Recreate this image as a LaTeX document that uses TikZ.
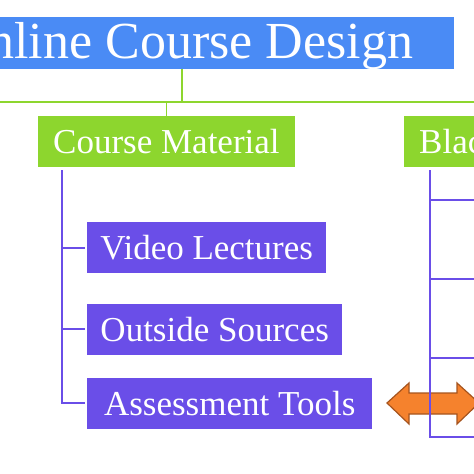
\documentclass[tikz,border=0pt]{standalone}
\usepackage{fontspec}
\setmainfont{Liberation Serif}
\definecolor{titleblue}{RGB}{74,139,245}
\definecolor{leafgreen}{RGB}{141,214,46}
\definecolor{itempurple}{RGB}{106,78,232}
\definecolor{arroworange}{RGB}{245,130,45}
\definecolor{arrowbrown}{RGB}{166,84,30}
\begin{document}
\begin{tikzpicture}[x=1pt, y=-1pt,
  title/.style={fill=titleblue, text=white, minimum width=544pt, minimum height=52pt,
    inner sep=0pt, text height=35pt, text depth=4pt, font=\fontsize{52}{60}\selectfont},
  topic/.style={fill=leafgreen, text=white, anchor=west, minimum height=51pt,
    inner xsep=15pt, inner ysep=0pt, text height=24pt, text depth=0pt, font=\fontsize{35}{40}\selectfont},
  item/.style={fill=itempurple, text=white, anchor=west, minimum height=51pt,
    inner xsep=12pt, inner ysep=0pt, text height=24pt, text depth=0pt, font=\fontsize{35}{40}\selectfont},
  greenline/.style={draw=leafgreen, line width=1.8pt},
  purpleline/.style={draw=itempurple, line width=2pt},
  arrowfill/.style={fill=arroworange, draw=arrowbrown, line width=1.2pt}]
  \useasboundingbox (0,0) rectangle (474,474);
  \clip (0,0) rectangle (474,474);
  % top level
  \node[title] (design) at (182,43) {Online Course Design};
  \node[topic] (material) at (38,141.5) {Course Material};
  \node[topic] (blackboard) at (404,141.5) {Blackboard};
  \coordinate (busL) at (-10,102);
  \coordinate (busR) at (490,102);
  \draw[greenline] (busL) -- (busR);
  \draw[greenline] (design.south) -- (design.south |- busL);
  \draw[greenline] (material.north) -- (material.north |- busL);
  % course material items
  \node[item, minimum width=239pt] (video) at (87,247.5) {Video Lectures};
  \node[item, minimum width=255pt] (outside) at (87,329) {Outside Sources};
  \node[item, minimum width=285pt] (assess) at (87,403) {Assessment Tools};
  \coordinate (cmtop) at (62,170);
  \draw[purpleline] (cmtop) |- ([xshift=-2pt]assess.west);
  \draw[purpleline] (cmtop |- video.west) -- ([xshift=-2pt]video.west);
  \draw[purpleline] (cmtop |- outside.west) -- ([xshift=-2pt]outside.west);
  % link between the two branches
  \draw[arrowfill] (387,403) -- (409,383) -- (409,393) -- (457,393) -- (457,383)
    -- (479,403) -- (457,424) -- (457,414) -- (409,414) -- (409,424) -- cycle;
  % blackboard items (off the edge)
  \coordinate (bbtop) at (430,170);
  \draw[purpleline] (bbtop) |- (490,437);
  \foreach \y in {200,279,358}
    \draw[purpleline] (bbtop |- 0,\y) -- (490,\y);
\end{tikzpicture}
\end{document}
